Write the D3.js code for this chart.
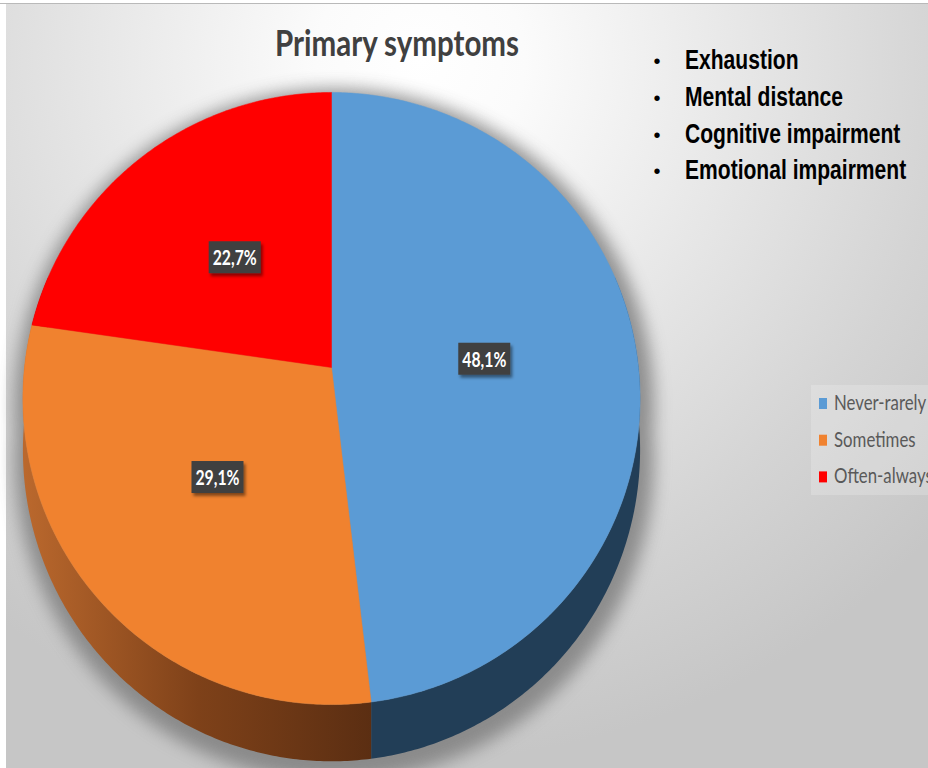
<!DOCTYPE html>
<html>
<head>
<meta charset="utf-8">
<script src="https://cdn.jsdelivr.net/npm/d3@7"></script>
<style>
  body { margin: 0; background: #fff; }
</style>
</head>
<body>
<script>
// data
const categories = ["Never-rarely", "Sometimes", "Often-always"];
const shares = [48.1, 29.1, 22.7];
const shareLabels = ["48,1%", "29,1%", "22,7%"];
const symptoms = ["Exhaustion", "Mental distance", "Cognitive impairment", "Emotional impairment"];
const chartTitle = "Primary symptoms";

const width = 928, height = 768;

// perspective of the 3d pie
const cx = 331.5, cy = 367.5, ax = 307, by = 302.9, k = -0.1013, depth = 51;

const color = d3.scaleOrdinal().domain(categories).range(["#5b9bd5", "#f0822f", "#ff0000"]);
const sideColor = d3.scaleOrdinal().domain(categories).range(["#223e57", "url(#orangeSide)", "#8a0000"]);

const svg = d3.select("body").append("svg")
  .attr("width", width)
  .attr("height", height);

const defs = svg.append("defs");

const bg = defs.append("radialGradient").attr("id", "bg")
  .attr("gradientUnits", "userSpaceOnUse")
  .attr("cx", 420).attr("cy", 60).attr("r", 700);
bg.append("stop").attr("offset", 0).attr("stop-color", "#ffffff");
bg.append("stop").attr("offset", 0.15).attr("stop-color", "#fbfbfb");
bg.append("stop").attr("offset", 0.75).attr("stop-color", "#d4d4d4");
bg.append("stop").attr("offset", 1).attr("stop-color", "#c6c6c6");

const os = defs.append("linearGradient").attr("id", "orangeSide")
  .attr("gradientUnits", "userSpaceOnUse")
  .attr("x1", 25).attr("x2", 372).attr("y1", 0).attr("y2", 0);
os.append("stop").attr("offset", 0).attr("stop-color", "#ba682d");
os.append("stop").attr("offset", 0.5).attr("stop-color", "#7e4119");
os.append("stop").attr("offset", 1).attr("stop-color", "#5b2e12");

defs.append("filter").attr("id", "blur")
  .attr("x", "-20%").attr("y", "-20%").attr("width", "140%").attr("height", "140%")
  .append("feGaussianBlur").attr("stdDeviation", 8);

defs.append("filter").attr("id", "boxShadow")
  .attr("x", "-30%").attr("y", "-30%").attr("width", "160%").attr("height", "160%")
  .append("feDropShadow")
  .attr("dx", 2).attr("dy", 3).attr("stdDeviation", 1.5)
  .attr("flood-color", "#000").attr("flood-opacity", 0.45);

// page + chart area
svg.append("rect").attr("width", width).attr("height", height).attr("fill", "#fff");
svg.append("rect").attr("x", 6).attr("y", 3).attr("width", width).attr("height", height)
  .attr("fill", "url(#bg)");
svg.append("line").attr("x1", 0).attr("x2", width).attr("y1", 3.5).attr("y2", 3.5)
  .attr("stroke", "#b9b9b9").attr("stroke-width", 1);

function proj(theta, r) {
  const u = r * Math.sin(theta), v = -r * Math.cos(theta);
  const den = 1 + k * v;
  return [cx + ax * u / den, cy + by * v / den, den];
}

function arcPts(a0, a1, r, drop) {
  const n = Math.max(2, Math.ceil((a1 - a0) / 0.01));
  const pts = [];
  for (let i = 0; i <= n; i++) {
    const p = proj(a0 + (a1 - a0) * i / n, r);
    pts.push([p[0], p[1] + (drop ? depth / p[2] : 0)]);
  }
  return pts;
}

const line = d3.line();
const pie = d3.pie().sort(null).value(d => d.value);
const arcs = pie(categories.map((c, i) => ({ name: c, value: shares[i], label: shareLabels[i] })));

// soft shadow under the pie
const shadow = svg.append("g")
  .attr("filter", "url(#blur)")
  .attr("opacity", 0.85)
  .attr("transform", `translate(${cx + 3},${cy + 6}) scale(1.035) translate(${-cx},${-cy})`);
shadow.append("path").attr("d", line(arcPts(0, 2 * Math.PI, 1, false)) + "Z").attr("fill", "#808080");
shadow.append("path").attr("d", line(arcPts(0, 2 * Math.PI, 1, true)) + "Z").attr("fill", "#808080");

// outer walls (front half only)
const lo = 0.4 * Math.PI, hi = 1.6 * Math.PI;
svg.append("g").selectAll("path")
  .data(arcs.filter(d => Math.min(d.endAngle, hi) > Math.max(d.startAngle, lo)))
  .join("path")
  .attr("fill", d => sideColor(d.data.name))
  .attr("d", d => {
    const s0 = Math.max(d.startAngle, lo), s1 = Math.min(d.endAngle, hi);
    const top = arcPts(s0, s1, 1, false);
    const bot = arcPts(s0, s1, 1, true).reverse();
    return line(top.concat(bot)) + "Z";
  });

// top faces
svg.append("g").selectAll("path")
  .data(arcs)
  .join("path")
  .attr("fill", d => color(d.data.name))
  .attr("stroke", d => color(d.data.name))
  .attr("stroke-width", 0.5)
  .attr("d", d => line([[cx, cy]].concat(arcPts(d.startAngle, d.endAngle, 1, false))) + "Z");

// data labels
const lab = svg.append("g").selectAll("g")
  .data(arcs)
  .join("g")
  .attr("transform", d => {
    const p = proj((d.startAngle + d.endAngle) / 2, 0.5);
    return `translate(${p[0]},${p[1]})`;
  });
lab.append("rect")
  .attr("x", -26).attr("y", -16).attr("width", 52).attr("height", 32)
  .attr("fill", "#404040")
  .attr("filter", "url(#boxShadow)");
lab.append("text")
  .attr("text-anchor", "middle")
  .attr("dy", "0.37em")
  .attr("font-family", "Lato, sans-serif")
  .attr("font-weight", "bold")
  .attr("font-size", 21)
  .attr("fill", "#fff")
  .text(d => d.data.label)
  .attr("textLength", 44)
  .attr("lengthAdjust", "spacingAndGlyphs");

// title
svg.append("text")
  .attr("x", 275).attr("y", 56)
  .attr("font-family", "Lato, sans-serif")
  .attr("font-weight", "bold")
  .attr("font-size", 36)
  .attr("fill", "#404040")
  .attr("textLength", 244)
  .attr("lengthAdjust", "spacingAndGlyphs")
  .text(chartTitle);

// bullet list
const bl = svg.append("g").selectAll("g")
  .data(symptoms)
  .join("g")
  .attr("transform", (d, i) => `translate(0,${69.3 + i * 36.7})`);
bl.append("text")
  .attr("x", 657)
  .attr("y", -1)
  .attr("text-anchor", "middle")
  .attr("font-family", "Liberation Sans, Arial, sans-serif")
  .attr("font-size", 20)
  .attr("fill", "#000")
  .text("\u2022");
bl.append("text")
  .attr("x", 685)
  .attr("font-family", "Liberation Sans, Arial, sans-serif")
  .attr("font-weight", "bold")
  .attr("font-size", 27)
  .attr("fill", "#000")
  .text(d => d)
  .attr("textLength", function() { return this.getComputedTextLength() * 0.78; })
  .attr("lengthAdjust", "spacingAndGlyphs");

// legend
const legend = svg.append("g");
legend.append("rect")
  .attr("x", 811).attr("y", 385).attr("width", 130).attr("height", 110)
  .attr("fill", "#fff").attr("opacity", 0.2);
const li = legend.selectAll("g")
  .data(categories)
  .join("g")
  .attr("transform", (d, i) => `translate(819,${398 + i * 36.7})`);
li.append("rect")
  .attr("width", 8).attr("height", 11)
  .attr("fill", d => color(d));
li.append("text")
  .attr("x", 15).attr("y", 12)
  .attr("font-family", "Lato, sans-serif")
  .attr("font-size", 21)
  .attr("fill", "#595959")
  .text(d => d)
  .attr("textLength", function() { return this.getComputedTextLength() * 0.8; })
  .attr("lengthAdjust", "spacingAndGlyphs");
</script>
</body>
</html>
